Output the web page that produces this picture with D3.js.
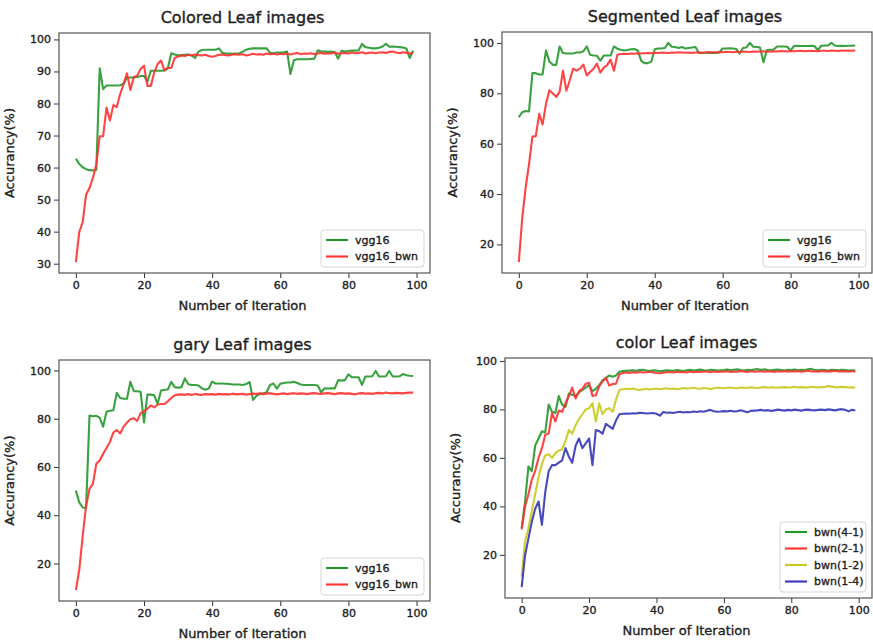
<!DOCTYPE html>
<html>
<head>
<meta charset="utf-8">
<script src="https://cdn.jsdelivr.net/npm/d3@7/dist/d3.min.js"></script>
<style>
  body { margin: 0; background: #fff; }
  svg text { font-family: "DejaVu Sans", sans-serif; fill: #1e1e1e; stroke: #1e1e1e; stroke-width: 0.35px; }
</style>
</head>
<body>
<script>
// ---- data: accuracy (%) per iteration, 0..99 ----
var xTicks = [0, 20, 40, 60, 80, 100];

var coloredVgg16 = [
  62.8, 61.1, 60.1, 59.5, 59.2, 59.1, 59.3, 91.0, 84.5, 85.6,
  85.6, 85.6, 85.6, 85.7, 86.2, 88.1, 88.1, 88.1, 88.3, 88.6,
  88.6, 86.8, 90.2, 90.2, 90.2, 90.2, 90.3, 91.0, 95.7, 95.3,
  95.0, 95.1, 95.2, 95.3, 95.0, 94.2, 96.2, 96.7, 96.8, 96.8,
  96.8, 96.8, 97.2, 95.8, 95.6, 95.6, 95.5, 95.6, 95.7, 96.2,
  96.8, 97.1, 97.2, 97.2, 97.2, 97.2, 97.2, 95.8, 95.7, 95.9,
  95.9, 96.0, 96.2, 89.2, 93.5, 93.8, 93.8, 93.8, 93.8, 93.9,
  94.0, 96.6, 96.2, 96.2, 96.1, 96.2, 96.0, 94.0, 96.5, 96.2,
  96.4, 96.5, 96.5, 96.6, 98.6, 97.6, 97.4, 97.2, 97.2, 97.4,
  97.8, 98.6, 97.7, 97.8, 97.7, 97.6, 97.5, 97.2, 94.2, 96.5
];
var coloredBwn = [
  30.5, 39.9, 43.0, 51.5, 53.6, 56.8, 60.9, 69.8, 69.8, 78.7,
  74.7, 79.5, 78.9, 82.9, 86.0, 89.4, 84.2, 88.2, 88.7, 90.8,
  91.8, 85.5, 85.5, 89.7, 92.3, 93.4, 90.3, 91.1, 91.1, 94.2,
  94.7, 95.0, 94.8, 95.2, 95.0, 95.3, 95.1, 95.0, 95.2, 94.8,
  94.6, 94.8, 95.2, 95.3, 95.1, 95.0, 95.4, 95.3, 95.2, 95.4,
  95.0, 95.2, 95.5, 95.3, 95.4, 95.2, 95.6, 95.4, 95.5, 95.3,
  95.5, 95.4, 95.6, 95.3, 95.5, 95.8, 95.4, 95.6, 95.5, 95.7,
  95.4, 95.6, 95.8, 95.5, 95.7, 95.6, 95.9, 95.5, 95.7, 95.8,
  95.6, 95.9, 95.7, 95.8, 96.0, 95.6, 95.8, 95.9, 95.7, 95.9,
  96.0, 95.8, 96.1, 96.2, 95.9, 95.7, 96.0, 95.8, 95.6, 95.7
];

var segmentedVgg16 = [
  70.5, 72.5, 73.0, 72.8, 88.0, 88.0, 87.5, 87.5, 97.0, 92.6,
  91.3, 91.3, 98.6, 96.0, 95.8, 95.8, 95.8, 96.2, 96.2, 96.7,
  98.6, 95.3, 95.0, 94.9, 93.0, 95.0, 95.0, 95.0, 98.6, 97.7,
  97.3, 97.0, 97.2, 97.5, 97.6, 97.0, 93.0, 92.0, 92.0, 92.6,
  97.5, 97.8, 97.8, 98.0, 100.0, 98.5, 98.4, 98.0, 98.4, 97.8,
  98.0, 98.2, 98.4, 96.0, 96.0, 96.2, 96.0, 96.1, 96.0, 96.2,
  97.8, 97.8, 97.9, 97.8, 97.6, 95.8, 98.0, 98.2, 100.0, 98.5,
  98.4, 98.2, 92.3, 97.2, 97.3, 97.4, 98.6, 98.6, 98.6, 98.5,
  97.0, 98.8, 98.9, 98.8, 98.8, 98.8, 98.9, 98.8, 97.1, 98.9,
  99.0, 99.0, 100.0, 99.0, 98.8, 98.9, 98.8, 98.9, 98.9, 99.0
];
var segmentedBwn = [
  13.0, 30.4, 42.4, 51.8, 62.8, 63.0, 71.9, 67.6, 75.9, 81.2,
  79.9, 78.6, 80.6, 89.0, 81.0, 85.2, 89.8, 89.0, 89.8, 91.4,
  87.1, 88.5, 89.8, 91.8, 88.2, 90.2, 91.2, 93.4, 89.0, 95.3,
  95.6, 95.7, 95.6, 95.8, 95.7, 95.9, 95.8, 95.9, 96.0, 95.9,
  96.1, 96.0, 96.2, 96.1, 96.0, 96.2, 96.1, 96.3, 96.2, 96.1,
  96.2, 96.0, 96.2, 96.3, 96.1, 96.2, 96.4, 96.2, 96.3, 96.4,
  96.3, 96.5, 96.4, 96.3, 96.5, 96.4, 96.6, 96.5, 96.4, 96.6,
  96.5, 96.6, 96.7, 96.5, 96.6, 96.7, 96.6, 96.8, 96.7, 96.6,
  96.8, 96.7, 96.8, 96.9, 96.7, 96.8, 96.9, 96.8, 96.7, 96.9,
  96.9, 96.8, 97.0, 96.9, 96.8, 97.0, 96.9, 97.0, 96.9, 97.0
];

var grayVgg16 = [
  50.2, 45.3, 43.2, 43.0, 81.3, 81.0, 81.2, 80.4, 76.7, 82.9,
  83.3, 83.5, 90.7, 88.6, 88.3, 88.3, 95.3, 91.4, 91.4, 91.2,
  78.5, 90.0, 90.0, 89.7, 86.2, 91.7, 92.0, 92.1, 95.3, 93.1,
  92.8, 93.1, 96.7, 94.3, 94.0, 94.0, 93.8, 92.6, 92.0, 92.5,
  95.4, 94.6, 94.6, 94.6, 94.5, 94.4, 94.2, 94.2, 94.2, 94.0,
  94.4, 95.2, 87.8, 89.5, 90.2, 90.5, 91.0, 94.0, 94.6, 92.5,
  94.5, 94.8, 95.0, 95.0, 95.3, 94.8, 94.2, 94.0, 94.0, 94.0,
  94.0, 93.8, 91.0, 92.6, 92.5, 92.6, 92.6, 96.0, 95.8, 96.0,
  98.4, 97.2, 97.2, 97.2, 94.0, 97.5, 97.5, 97.6, 99.8, 97.5,
  97.5, 97.6, 99.8, 97.5, 97.5, 97.6, 98.5, 98.0, 97.8, 97.7
];
var grayBwn = [
  9.0, 17.4, 31.3, 43.9, 50.9, 53.0, 61.3, 62.7, 65.5, 67.9,
  70.4, 74.3, 75.3, 73.9, 76.7, 78.4, 79.8, 80.2, 79.1, 82.3,
  83.0, 84.1, 85.5, 84.7, 85.8, 86.1, 86.1, 87.2, 88.6, 89.7,
  90.0, 90.1, 89.9, 90.2, 89.8, 90.3, 90.0, 89.9, 90.2, 90.1,
  90.2, 90.0, 90.3, 90.1, 90.2, 90.0, 90.4, 90.1, 90.2, 90.3,
  89.9, 90.2, 90.4, 90.3, 90.5, 90.2, 90.4, 90.6, 90.3, 90.1,
  90.3, 90.5, 90.2, 90.4, 90.6, 90.3, 90.5, 90.4, 90.2, 90.5,
  90.6, 90.4, 90.3, 90.5, 90.6, 90.4, 90.2, 90.5, 90.6, 90.4,
  90.5, 90.3, 90.1, 90.5, 90.6, 90.4, 90.5, 90.3, 90.6, 90.7,
  90.5, 90.9, 90.6, 90.5, 90.7, 90.6, 90.5, 90.7, 90.8, 90.8
];

var bwn41 = [
  31.0, 42.0, 56.5, 54.5, 65.0, 68.0, 71.0, 70.5, 82.0, 79.0,
  78.5, 85.5, 82.0, 81.0, 86.5, 86.0, 85.5, 87.0, 88.0, 89.0,
  90.0, 87.5, 88.5, 90.0, 92.0, 93.0, 94.0, 93.5, 94.0, 95.5,
  95.8, 95.9, 96.0, 96.1, 95.9, 96.2, 96.3, 96.0, 95.8, 96.1,
  96.0, 95.7, 95.9, 96.1, 96.0, 95.9, 96.2, 96.0, 95.8, 96.1,
  96.3, 96.0, 96.2, 96.4, 96.1, 96.0, 96.3, 96.2, 96.0, 96.1,
  96.2, 96.4, 96.1, 96.3, 96.5, 96.2, 96.0, 96.3, 96.2, 96.4,
  96.6, 96.3, 96.5, 96.2, 96.1, 96.3, 96.4, 96.2, 96.0, 96.3,
  96.2, 96.4, 96.1, 96.3, 96.2, 96.5, 96.7, 96.2, 96.1, 96.3,
  96.2, 96.0, 96.3, 96.2, 96.1, 96.3, 96.2, 96.0, 96.1, 96.0
];
var bwn21 = [
  30.5, 40.0, 45.0, 51.0, 54.5, 60.0, 64.0, 69.5, 70.0, 78.5,
  75.0, 79.5, 79.0, 82.5, 85.5, 89.0, 84.5, 87.5, 88.5, 90.5,
  91.0, 85.5, 85.8, 89.5, 91.5, 93.0, 89.8, 90.5, 90.6, 94.5,
  95.0, 95.2, 95.0, 95.3, 95.1, 95.4, 95.2, 95.3, 95.5, 95.2,
  95.0, 94.9, 95.1, 95.3, 95.4, 95.2, 95.5, 95.3, 95.4, 95.2,
  95.6, 95.3, 95.5, 95.4, 95.7, 95.5, 95.3, 95.6, 95.4, 95.5,
  95.5, 95.7, 95.4, 95.6, 95.5, 95.8, 95.6, 95.4, 95.7, 95.5,
  95.6, 95.8, 95.5, 95.7, 95.6, 95.4, 95.7, 95.6, 95.8, 95.5,
  95.7, 95.6, 95.8, 95.5, 95.7, 95.9, 95.6, 95.7, 95.5, 95.8,
  95.6, 95.8, 95.7, 95.9, 95.6, 95.8, 95.7, 95.6, 95.8, 95.5
];
var bwn12 = [
  11.0, 25.5, 31.0, 38.0, 45.0, 52.0, 57.5, 61.0, 61.5, 60.0,
  62.0, 63.0, 63.5, 67.0, 71.5, 70.0, 73.5, 76.0, 78.0, 80.0,
  80.5, 82.6, 75.0, 82.5, 78.0, 80.0, 80.5, 79.0, 84.0, 88.0,
  88.3, 88.5, 88.4, 88.6, 88.2, 88.0, 88.3, 88.5, 88.2, 88.4,
  88.6, 88.3, 88.5, 88.7, 88.4, 88.6, 88.3, 88.5, 88.8, 88.6,
  88.7, 88.9, 88.6, 88.5, 88.8, 88.6, 88.4, 88.7, 88.9, 88.8,
  88.7, 88.9, 89.0, 88.8, 88.7, 89.0, 88.9, 88.8, 89.1, 88.9,
  88.8, 89.0, 89.2, 88.9, 89.1, 89.0, 88.9, 89.1, 89.2, 89.0,
  89.1, 89.3, 89.0, 89.2, 89.1, 89.0, 89.3, 89.2, 89.0, 89.2,
  89.3, 89.6, 89.4, 89.2, 89.1, 89.3, 89.2, 89.0, 89.1, 89.0
];
var bwn14 = [
  6.7, 19.8, 26.7, 33.6, 39.0, 42.0, 32.4, 46.0, 54.5, 57.0,
  57.0, 58.0, 59.0, 64.0, 60.5, 58.0, 65.0, 68.0, 64.0, 66.0,
  68.0, 57.0, 71.5, 71.0, 70.0, 74.0, 73.0, 72.0, 75.5, 78.0,
  78.2, 78.3, 78.2, 78.4, 78.3, 78.6, 78.5, 78.3, 78.4, 78.5,
  78.2, 77.4, 78.9, 78.6, 78.7, 78.5, 78.8, 79.0, 78.7, 78.9,
  78.8, 79.1, 78.9, 79.2, 79.0, 79.4, 79.8, 79.2, 79.0, 79.1,
  79.3, 79.2, 79.4, 79.1, 79.3, 79.6, 79.2, 78.8, 79.4, 79.5,
  79.6, 79.8, 79.5, 79.7, 79.3, 79.6, 79.9, 79.7, 79.5, 79.8,
  79.6, 79.9, 79.7, 79.5, 79.8, 79.9, 79.7, 79.6, 79.8, 79.9,
  79.7, 80.0, 79.8, 79.6, 79.9, 80.1, 79.8, 79.2, 79.9, 79.5
];

// ---- colours (matplotlib 'g', 'r', 'y', 'b' as they look in the scan) ----
var GREEN = "#23972a", RED = "#ff3030", YELLOW = "#c9c81c", BLUE = "#3535b8";

// ---- panel layout: frame box in page pixels ----
var panels = [
  { title: "Colored Leaf images", box: { l: 59, t: 33, r: 430, b: 273 },
    yTicks: [30, 40, 50, 60, 70, 80, 90, 100], legendW: 103,
    series: [{ name: "vgg16", values: coloredVgg16, color: GREEN },
             { name: "vgg16_bwn", values: coloredBwn, color: RED }] },
  { title: "Segmented Leaf images", box: { l: 502, t: 32, r: 872, b: 273 },
    yTicks: [20, 40, 60, 80, 100], legendW: 103,
    series: [{ name: "vgg16", values: segmentedVgg16, color: GREEN },
             { name: "vgg16_bwn", values: segmentedBwn, color: RED }] },
  { title: "gary Leaf images", box: { l: 59, t: 360, r: 430, b: 601 },
    yTicks: [20, 40, 60, 80, 100], legendW: 103,
    series: [{ name: "vgg16", values: grayVgg16, color: GREEN },
             { name: "vgg16_bwn", values: grayBwn, color: RED }] },
  { title: "color Leaf images", box: { l: 505, t: 358, r: 872, b: 598 },
    yTicks: [20, 40, 60, 80, 100], legendW: 86,
    series: [{ name: "bwn(4-1)", values: bwn41, color: GREEN },
             { name: "bwn(2-1)", values: bwn21, color: RED },
             { name: "bwn(1-2)", values: bwn12, color: YELLOW },
             { name: "bwn(1-4)", values: bwn14, color: BLUE }] }
];

var width = 873, height = 641;

var svg = d3.select("body").append("svg")
  .attr("width", width)
  .attr("height", height);

panels.forEach(function (p, pi) {
  var b = p.box;
  var n = p.series[0].values.length;

  // matplotlib default: 5% margin around the data
  var xPad = (n - 1) * 0.05;
  var x = d3.scaleLinear().domain([-xPad, n - 1 + xPad]).range([b.l, b.r]);

  var all = d3.merge(p.series.map(function (s) { return s.values; }));
  var lo = d3.min(all), hi = d3.max(all), yPad = (hi - lo) * 0.05;
  var y = d3.scaleLinear().domain([lo - yPad, hi + yPad]).range([b.b, b.t]);

  var g = svg.append("g").attr("class", "panel");

  g.append("clipPath").attr("id", "clip" + pi)
    .append("rect")
    .attr("x", b.l).attr("y", b.t)
    .attr("width", b.r - b.l).attr("height", b.b - b.t);

  // lines
  var line = d3.line()
    .x(function (d, i) { return x(i); })
    .y(function (d) { return y(d); });

  g.append("g").attr("clip-path", "url(#clip" + pi + ")")
    .selectAll("path")
    .data(p.series)
    .enter().append("path")
    .attr("d", function (s) { return line(s.values); })
    .style("fill", "none")
    .style("stroke", function (s) { return s.color; })
    .style("stroke-width", 2.1)
    .style("stroke-linejoin", "round")
    .style("stroke-opacity", 0.9);

  // axes
  var xAxis = d3.axisBottom(x).tickValues(xTicks).tickSize(5).tickPadding(3).tickFormat(d3.format("d"));
  var yAxis = d3.axisLeft(y).tickValues(p.yTicks).tickSize(5).tickPadding(3).tickFormat(d3.format("d"));

  var gx = g.append("g").attr("transform", "translate(0," + b.b + ")").call(xAxis);
  var gy = g.append("g").attr("transform", "translate(" + b.l + ",0)").call(yAxis);
  [gx, gy].forEach(function (ax) {
    ax.select(".domain").remove();
    ax.selectAll("line").style("stroke", "#333");
    ax.selectAll("text").style("font-size", "11px").style("font-family", "DejaVu Sans")
      .style("fill", "#1e1e1e");
  });

  // frame
  g.append("rect")
    .attr("x", b.l).attr("y", b.t)
    .attr("width", b.r - b.l).attr("height", b.b - b.t)
    .style("fill", "none")
    .style("stroke", "#555")
    .style("stroke-width", 1.2);

  var cx = (b.l + b.r) / 2 - 2;
  var cy = (b.t + b.b) / 2;

  g.append("text")
    .attr("x", cx).attr("y", b.t - 10)
    .attr("text-anchor", "middle")
    .style("font-size", "16px")
    .text(p.title);

  g.append("text")
    .attr("x", cx).attr("y", b.b + 37)
    .attr("text-anchor", "middle")
    .style("font-size", "13px")
    .text("Number of Iteration");

  g.append("text")
    .attr("transform", "translate(" + (b.l - 45) + "," + cy + ") rotate(-90)")
    .attr("text-anchor", "middle")
    .style("font-size", "13px")
    .text("Accurancy(%)");

  // legend, lower right
  var rowH = 16.5, lw = p.legendW, lh = p.series.length * rowH + 4;
  var lx = b.r - 6 - lw, ly = b.b - 6 - lh;
  var leg = g.append("g").attr("transform", "translate(" + lx + "," + ly + ")");
  leg.append("rect")
    .attr("width", lw).attr("height", lh)
    .attr("rx", 3)
    .style("fill", "#fff").style("fill-opacity", 0.85)
    .style("stroke", "#d4d4d4");
  var item = leg.selectAll("g.item")
    .data(p.series)
    .enter().append("g").attr("class", "item")
    .attr("transform", function (s, i) { return "translate(0," + (10 + i * rowH) + ")"; });
  item.append("line")
    .attr("x1", 5).attr("x2", 27)
    .style("stroke", function (s) { return s.color; })
    .style("stroke-width", 2.1);
  item.append("text")
    .attr("x", 34).attr("dy", "0.35em")
    .style("font-size", "11px")
    .text(function (s) { return s.name; });
});
</script>
</body>
</html>
